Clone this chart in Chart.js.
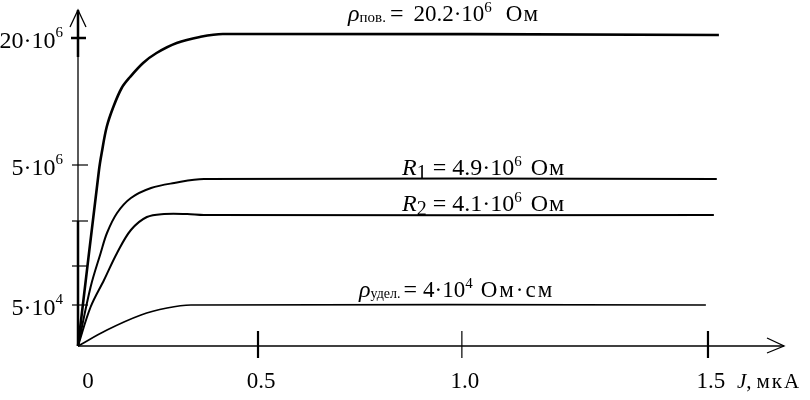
<!DOCTYPE html>
<html>
<head>
<meta charset="utf-8">
<script src="https://cdn.jsdelivr.net/npm/chart.js@4"></script>
<style>
  body { margin: 0; background: #fff; }
  #wrap { width: 810px; height: 400px; }
</style>
</head>
<body>
<div id="wrap"><canvas id="chart"></canvas></div>
<script>
// x in мкА (as drawn), y in drawing units above the J axis (the scale is schematic)
const rhoSurfX = [0, 0.050, 0.0564, 0.0683, 0.0841, 0.104, 0.124, 0.155, 0.187, 0.235, 0.290, 0.345, 1.526];
const rhoSurfY = [0, 176, 193, 219, 239, 258, 269, 283, 293, 303, 309, 312, 311];

const r1X = [0, 0.030, 0.054, 0.069, 0.093, 0.126, 0.174, 0.229, 0.300, 1.521];
const r1Y = [0, 59, 93, 113, 133, 148, 158, 163, 167, 167];

const r2X = [0, 0.030, 0.062, 0.093, 0.126, 0.164, 0.205, 0.260, 0.300, 1.514];
const r2Y = [0, 39, 66, 93, 116, 129, 132, 132, 131, 131];

const rhoVolX = [0, 0.069, 0.150, 0.212, 0.269, 1.495];
const rhoVolY = [0, 16, 31, 38, 41, 41];

const xTickPos = [0, 0.4286, 0.914, 1.5];
const xTickLabels = ["0", "0.5", "1.0", "1.5"];
const xTickBold = [false, true, false, true];

const yTickPos = [41, 80, 125, 181, 308];
const yTickBase = ["5·10", "", "", "5·10", "20·10"];
const yTickExp = ["4", "", "", "6", "6"];

const SERIF = '"Liberation Serif", "Times New Roman", serif';

function pts(xs, ys) {
  return xs.map((x, i) => ({ x: x, y: ys[i] }));
}

function font(size, italic) {
  return (italic ? "italic " : "") + size + "px " + SERIF;
}

// draw a row of text pieces (for sub/superscripts)
function drawRuns(ctx, x, y, runs) {
  runs.forEach((r) => {
    ctx.font = font(r.size, r.italic);
    ctx.letterSpacing = (r.ls || 0) + "px";
    ctx.fillText(r.t, x, y + (r.dy || 0));
    x += ctx.measureText(r.t).width + (r.gap || 0);
  });
  ctx.letterSpacing = "0px";
}

const axesPlugin = {
  id: "axes",
  afterDraw(chart) {
    let ctx = chart.ctx;
    let xs = chart.scales.x;
    let ys = chart.scales.y;
    let x0 = xs.getPixelForValue(0);
    let y0 = ys.getPixelForValue(0);
    let top = ys.getPixelForValue(ys.max);
    let right = xs.getPixelForValue(xs.max);

    ctx.save();
    ctx.strokeStyle = "#000";
    ctx.fillStyle = "#000";
    ctx.lineCap = "butt";

    // y axis
    ctx.lineWidth = 1.3;
    ctx.beginPath();
    ctx.moveTo(x0, y0);
    ctx.lineTo(x0, top);
    ctx.stroke();
    ctx.lineWidth = 2.5;
    ctx.beginPath();
    ctx.moveTo(x0, top);
    ctx.lineTo(x0, top + 47);
    ctx.moveTo(x0, ys.getPixelForValue(yTickPos[2]));
    ctx.lineTo(x0, y0);
    ctx.stroke();
    ctx.lineWidth = 1.3;
    ctx.beginPath();
    ctx.moveTo(x0 - 8, top + 17);
    ctx.lineTo(x0, top);
    ctx.lineTo(x0 + 8, top + 17);
    ctx.stroke();

    // x axis
    ctx.lineWidth = 1.5;
    ctx.beginPath();
    ctx.moveTo(x0, y0);
    ctx.lineTo(right, y0);
    ctx.stroke();
    ctx.lineWidth = 1.3;
    ctx.beginPath();
    ctx.moveTo(right - 17, y0 - 8);
    ctx.lineTo(right, y0);
    ctx.lineTo(right - 17, y0 + 7);
    ctx.stroke();

    // x ticks
    ctx.textAlign = "center";
    ctx.textBaseline = "alphabetic";
    ctx.font = font(23);
    xTickPos.forEach((v, i) => {
      let px = xs.getPixelForValue(v);
      if (i > 0) {
        ctx.lineWidth = xTickBold[i] ? 2.2 : 1.2;
        ctx.beginPath();
        ctx.moveTo(px, y0 - 15);
        ctx.lineTo(px, y0 + 12);
        ctx.stroke();
      }
      ctx.fillText(xTickLabels[i], px + (i === 0 ? 10 : 3), 388);
    });
    ctx.textAlign = "left";
    drawRuns(ctx, 737, 388, [
      { t: "J", size: 21, italic: true },
      { t: ",", size: 21, gap: 5 },
      { t: "мкА", size: 21, ls: 2 },
    ]);

    // y ticks
    yTickPos.forEach((v, i) => {
      let py = ys.getPixelForValue(v);
      ctx.lineWidth = i === 4 ? 2.5 : 1.2;
      ctx.beginPath();
      ctx.moveTo(x0 - (i === 4 ? 7 : 6), py);
      ctx.lineTo(x0 + (i === 4 ? 8 : 10), py);
      ctx.stroke();
      if (yTickBase[i]) {
        ctx.font = font(15);
        let ew = ctx.measureText(yTickExp[i]).width;
        ctx.font = font(24);
        let bw = ctx.measureText(yTickBase[i]).width;
        let sx = x0 - 15 - ew;
        ctx.fillText(yTickBase[i], sx - bw, py + 10);
        ctx.font = font(15);
        ctx.fillText(yTickExp[i], sx, py - 1);
      }
    });

    // curve labels
    drawRuns(ctx, 348, 21, [
      { t: "ρ", size: 24, italic: true },
      { t: "пов.", size: 15, dy: 1, gap: 4 },
      { t: "=", size: 24, gap: 10 },
      { t: "20.2·10", size: 23 },
      { t: "6", size: 15, dy: -9, gap: 14 },
      { t: "Ом", size: 23, ls: 1 },
    ]);
    drawRuns(ctx, 402, 175, [
      { t: "R", size: 24, italic: true },
      { t: "1", size: 20, dy: 4 },
      { t: " = 4.9·10", size: 24 },
      { t: "6", size: 15, dy: -9, gap: 2 },
      { t: " Ом", size: 24, ls: 1 },
    ]);
    drawRuns(ctx, 402, 211, [
      { t: "R", size: 24, italic: true },
      { t: "2", size: 20, dy: 4 },
      { t: " = 4.1·10", size: 24 },
      { t: "6", size: 15, dy: -9, gap: 2 },
      { t: " Ом", size: 24, ls: 1 },
    ]);
    drawRuns(ctx, 359, 297, [
      { t: "ρ", size: 24, italic: true },
      { t: "удел.", size: 14, dy: 1, gap: 3 },
      { t: "=", size: 24, gap: 6 },
      { t: "4·10", size: 23 },
      { t: "4", size: 15, dy: -9, gap: 8 },
      { t: "Ом·см", size: 23, ls: 2 },
    ]);
    ctx.restore();
  },
};

function series(label, data, width) {
  return {
    label: label,
    data: data,
    borderColor: "#000",
    borderWidth: width,
    pointRadius: 0,
    fill: false,
    tension: 0.35,
    clip: false,
  };
}

let ctx = document.getElementById("chart").getContext("2d");
new Chart(ctx, {
  type: "line",
  data: {
    datasets: [
      series("ρпов.", pts(rhoSurfX, rhoSurfY), 2.6),
      series("R1", pts(r1X, r1Y), 2),
      series("R2", pts(r2X, r2Y), 2),
      series("ρудел.", pts(rhoVolX, rhoVolY), 1.7),
    ],
  },
  options: {
    responsive: true,
    maintainAspectRatio: false,
    animation: false,
    layout: { padding: { left: 78, right: 26, top: 10, bottom: 54 } },
    plugins: { legend: { display: false }, tooltip: { enabled: false } },
    scales: {
      x: { type: "linear", display: false, min: 0, max: 1.681 },
      y: { type: "linear", display: false, min: 0, max: 336 },
    },
  },
  plugins: [axesPlugin],
});
</script>
</body>
</html>
